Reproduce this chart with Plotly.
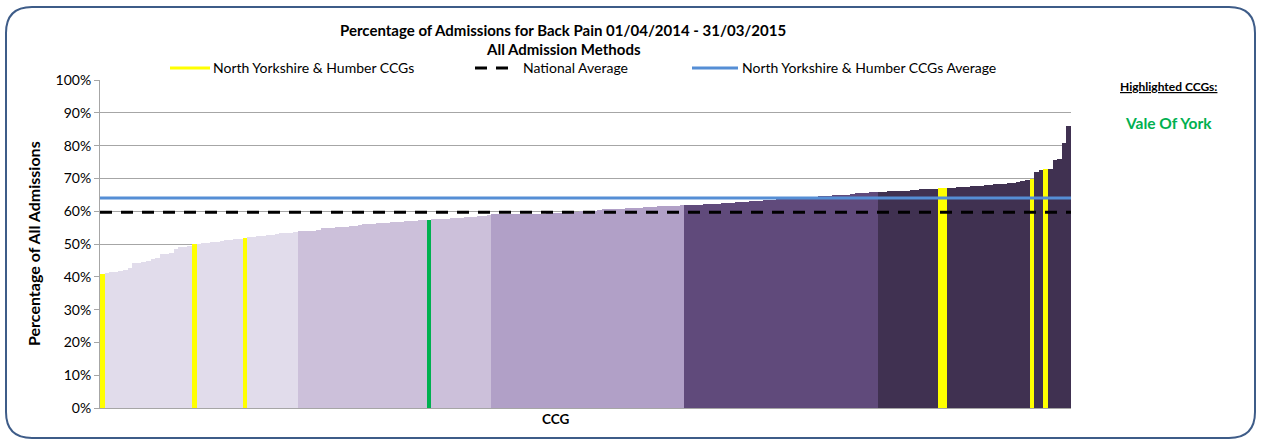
import plotly.graph_objects as go

# ---------------- data ----------------
values = [
    # quintile 1 (43)
    40.8, 41.1, 41.4, 41.6, 41.7, 42.0, 42.6, 44.2, 44.3, 44.4,
    44.8, 45.5, 45.7, 46.9, 47.1, 47.3, 48.4, 49.0, 49.2, 49.5,
    49.9, 50.1, 50.2, 50.4, 50.5, 50.7, 50.9, 51.2, 51.3, 51.5,
    51.6, 51.7, 52.0, 52.1, 52.3, 52.4, 52.6, 52.8, 53.2, 53.3,
    53.4, 53.5, 53.6,
    # quintile 2 (42)
    54.0, 54.0, 54.1, 54.1, 54.2, 54.8, 54.8, 54.9, 55.1, 55.1,
    55.2, 55.6, 55.6, 55.7, 56.0, 56.0, 56.1, 56.3, 56.4, 56.5,
    56.6, 56.8, 56.8, 56.9, 57.0, 57.1, 57.2, 57.2, 57.4, 57.6,
    57.6, 57.7, 57.7, 57.8, 57.9, 58.0, 58.1, 58.2, 58.2, 58.4,
    58.5, 58.8,
    # quintile 3 (42)
    59.0, 59.0, 59.1, 59.1, 59.1, 59.2, 59.2, 59.2, 59.3, 59.3,
    59.3, 59.3, 59.4, 59.5, 59.5, 59.6, 59.6, 59.8, 59.9, 60.0,
    60.0, 60.1, 60.2, 60.5, 60.6, 60.6, 60.7, 60.8, 60.8, 61.0,
    61.0, 61.1, 61.1, 61.3, 61.3, 61.4, 61.5, 61.5, 61.6, 61.7,
    61.7, 61.8,
    # quintile 4 (42)
    61.9, 61.9, 62.0, 62.0, 62.1, 62.1, 62.2, 62.3, 62.5, 62.5,
    62.6, 62.7, 62.8, 62.9, 63.0, 63.2, 63.2, 63.3, 63.4, 63.5,
    63.6, 63.7, 63.8, 63.9, 64.0, 64.1, 64.3, 64.3, 64.4, 64.5,
    64.6, 64.7, 64.8, 64.8, 64.9, 65.0, 65.3, 65.5, 65.5, 65.6,
    65.9, 66.0,
    # quintile 5 (42)
    66.0, 66.0, 66.1, 66.1, 66.2, 66.2, 66.3, 66.4, 66.6, 66.7,
    66.7, 66.8, 66.9, 67.0, 67.0, 67.2, 67.2, 67.3, 67.4, 67.5,
    67.6, 67.7, 67.8, 67.9, 68.0, 68.2, 68.3, 68.4, 68.6, 68.7,
    68.9, 69.1, 69.4, 69.8, 72.0, 72.5, 72.8, 72.8, 75.6, 76.0,
    80.8, 86.0,
]
quintile_sizes = [43, 42, 42, 42, 42]
quintile_colors = ["#E1DCEB", "#CCC0DA", "#B1A0C7", "#604A7B", "#403151"]
nyh_ccg_idx = [0, 20, 31, 182, 183, 202, 205]   # North Yorkshire & Humber CCGs
highlight_idx = [71]                              # Vale Of York
national_avg = 59.7
nyh_avg = 64.0
y_ticks = [0, 10, 20, 30, 40, 50, 60, 70, 80, 90, 100]
y_tick_labels = ["0%", "10%", "20%", "30%", "40%", "50%", "60%", "70%", "80%", "90%", "100%"]

# ---------------- colours per bar ----------------
colors = []
for q, n in enumerate(quintile_sizes):
    colors += [quintile_colors[q]] * n
for i in nyh_ccg_idx:
    colors[i] = "#FFFF00"
for i in highlight_idx:
    colors[i] = "#00B050"

x = list(range(len(values)))

FONT = "Lato, Carlito, Calibri, sans-serif"
W, H = 1261, 443
L, R, T, B = 100, 190, 80, 35
PW, PH = W - L - R, H - T - B


def px(xp):
    return (xp - L) / PW


def py(yp):
    return (H - B - yp) / PH


fig = go.Figure()
fig.add_trace(go.Bar(x=x, y=values, marker=dict(color=colors, line=dict(width=0)),
                     showlegend=False, hoverinfo="y"))

shapes = [
    dict(type="line", xref="paper", yref="y", x0=0, x1=1, y0=national_avg, y1=national_avg,
         line=dict(color="black", width=3, dash="12px,9px"), layer="above"),
    dict(type="line", xref="paper", yref="y", x0=0, x1=1, y0=nyh_avg, y1=nyh_avg,
         line=dict(color="#558ED5", width=3), layer="above"),
]

# legend samples (manual)
leg_y = py(68)
shapes += [
    dict(type="line", xref="paper", yref="paper", x0=px(170), x1=px(210), y0=leg_y, y1=leg_y,
         line=dict(color="#FFFF00", width=3)),
    dict(type="line", xref="paper", yref="paper", x0=px(475), x1=px(514), y0=leg_y, y1=leg_y,
         line=dict(color="black", width=3, dash="12px,9px")),
    dict(type="line", xref="paper", yref="paper", x0=px(692), x1=px(738), y0=leg_y, y1=leg_y,
         line=dict(color="#558ED5", width=3)),
]

# rounded frame
x0f, x1f, y0f, y1f, r = 6, 1255, 7, 438, 26
path = (f"M {px(x0f + r)},{py(y0f)} L {px(x1f - r)},{py(y0f)} "
        f"Q {px(x1f)},{py(y0f)} {px(x1f)},{py(y0f + r)} "
        f"L {px(x1f)},{py(y1f - r)} Q {px(x1f)},{py(y1f)} {px(x1f - r)},{py(y1f)} "
        f"L {px(x0f + r)},{py(y1f)} Q {px(x0f)},{py(y1f)} {px(x0f)},{py(y1f - r)} "
        f"L {px(x0f)},{py(y0f + r)} Q {px(x0f)},{py(y0f)} {px(x0f + r)},{py(y0f)} Z")
shapes.append(dict(type="path", xref="paper", yref="paper", path=path,
                   line=dict(color="#3E5C88", width=2), layer="below"))

ann = [
    dict(text="<b>Percentage of Admissions for Back Pain 01/04/2014 - 31/03/2015</b>",
         x=px(563), y=py(30), font=dict(size=15)),
    dict(text="<b>All Admission Methods</b>", x=px(563), y=py(49), font=dict(size=15)),
    dict(text="North Yorkshire & Humber CCGs", x=px(211), y=leg_y, xanchor="left",
         font=dict(size=14)),
    dict(text="National Average", x=px(521), y=leg_y, xanchor="left", font=dict(size=14)),
    dict(text="North Yorkshire & Humber CCGs Average", x=px(740), y=leg_y, xanchor="left",
         font=dict(size=14)),
    dict(text="<b><u>Highlighted CCGs:</u></b>", x=px(1168), y=py(86), font=dict(size=12)),
    dict(text="<b>Vale Of York</b>", x=px(1168), y=py(123), font=dict(size=15.5, color="#00B050")),
    dict(text="<b>CCG</b>", x=px(555), y=py(419), font=dict(size=13.5)),
    dict(text="<b>Percentage of All Admissions</b>", x=px(33), y=py(244), textangle=-90,
         font=dict(size=16)),
]
for a in ann:
    a.update(xref="paper", yref="paper", showarrow=False)
    a.setdefault("xanchor", "center")
    a["yanchor"] = "middle"

fig.update_layout(
    width=W, height=H,
    margin=dict(l=L, r=R, t=T, b=B, autoexpand=False),
    paper_bgcolor="white", plot_bgcolor="white",
    font=dict(family=FONT, size=14, color="black"),
    bargap=0,
    shapes=shapes,
    annotations=ann,
    showlegend=False,
    xaxis=dict(range=[-0.5, len(values) - 0.5], showticklabels=False, ticks="",
               showgrid=False, showline=True, linecolor="#A6A6A6", linewidth=1,
               zeroline=False, fixedrange=True),
    yaxis=dict(range=[0, 100], tickmode="array", tickvals=y_ticks, ticktext=y_tick_labels,
               showgrid=True, gridcolor="#A6A6A6", gridwidth=1, showline=True,
               linecolor="#A6A6A6", ticks="outside", ticklen=5, tickcolor="#A6A6A6",
               zeroline=False, tickfont=dict(size=14), fixedrange=True),
)

fig.write_html("out.html", config={"displayModeBar": False},
               post_script="document.body.style.margin='0';")
